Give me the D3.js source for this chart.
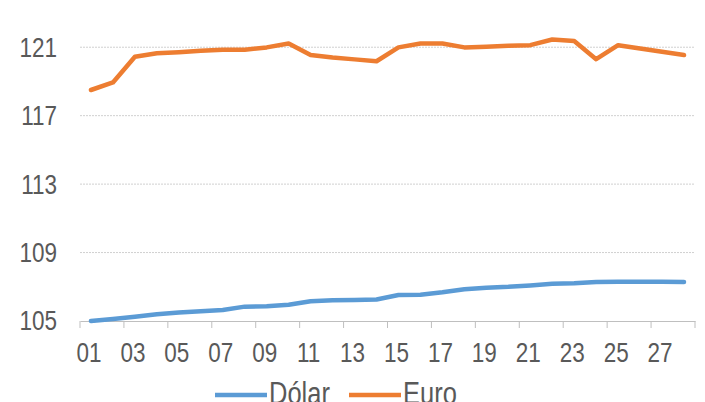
<!DOCTYPE html>
<html>
<head>
<meta charset="utf-8">
<script src="https://cdn.jsdelivr.net/npm/d3@7"></script>
<style>
  body { margin: 0; background: #fff; }
  svg text { font-family: "Liberation Sans", Arial, sans-serif; fill: #595959; }
</style>
</head>
<body>
<div class="diagram"></div>
<script>
// days of the month
const days = d3.range(1, 29).map(d => d3.format("02")(d));
const dolar = [105.0, 105.12, 105.25, 105.39, 105.49, 105.57, 105.64, 105.84, 105.86, 105.95,
  106.15, 106.21, 106.23, 106.26, 106.52, 106.54, 106.68, 106.85, 106.95, 107.0,
  107.08, 107.18, 107.2, 107.28, 107.3, 107.3, 107.3, 107.28];
const euro = [118.5, 118.94, 120.44, 120.65, 120.71, 120.79, 120.85, 120.85, 120.99, 121.22,
  120.54, 120.4, 120.29, 120.18, 120.99, 121.22, 121.22, 120.99, 121.03, 121.08,
  121.12, 121.45, 121.36, 120.3, 121.12, 120.93, 120.73, 120.54];
const yTicks = [105, 109, 113, 117, 121];
const seriesNames = ["Dólar", "Euro"];
const colors = ["#5B9BD5", "#ED7D31"];

const W = 705, H = 402;
const margin = {top: 13, right: 10, bottom: 81, left: 80};
const width = 695 - margin.left,
    height = 321 - margin.top;
const fontSize = "22.5px", stretch = "scale(1,1.2)"; // the text in the picture is a bit tall

const svg = d3.select(".diagram")
  .append("svg")
    .attr("width", W)
    .attr("height", H)
  .append("g")
    .attr("transform", `translate(${margin.left}, ${margin.top})`);

const x = d3.scaleBand()
  .domain(days)
  .range([0, width]);

const y = d3.scaleLinear()
  .domain([105, 123])
  .range([height, 0]);

// gridlines
svg.append("g")
  .selectAll("line")
  .data(yTicks.slice(1))
  .join("line")
    .attr("x1", 0)
    .attr("x2", width)
    .attr("y1", d => y(d))
    .attr("y2", d => y(d))
    .attr("stroke", "#d0d0d0")
    .attr("stroke-width", 1)
    .attr("stroke-dasharray", "2,1");

// Y axis (labels only)
const yAxis = svg.append("g")
  .call(d3.axisLeft(y).tickValues(yTicks).tickSize(0).tickPadding(23));
yAxis.select(".domain").remove();
yAxis.selectAll("text")
  .style("font-size", fontSize)
  .attr("dy", "0.33em")
  .attr("transform", stretch);

// X axis with ticks between every two categories
const xAxis = svg.append("g")
  .attr("transform", `translate(0, ${height})`)
  .call(d3.axisBottom(x)
    .tickValues(days.filter((d, i) => i % 2 === 0))
    .tickSize(0));
xAxis.select(".domain").attr("stroke", "#bfbfbf");
xAxis.selectAll("text")
  .style("font-size", fontSize)
  .attr("y", 34)
  .attr("dy", 0)
  .attr("dx", "-2")
  .attr("transform", stretch);

const boundaries = d3.range(0, days.length + 1, 2);
xAxis.append("g")
  .selectAll("line")
  .data(boundaries)
  .join("line")
    .attr("x1", d => d * x.step())
    .attr("x2", d => d * x.step())
    .attr("y1", 0)
    .attr("y2", 7)
    .attr("stroke", "#bfbfbf");

// lines
const line = d3.line()
  .x((d, i) => x(days[i]) + x.bandwidth() / 2)
  .y(d => y(d));

[dolar, euro].forEach((s, k) => {
  svg.append("path")
    .datum(s)
    .attr("fill", "none")
    .attr("stroke", colors[k])
    .attr("stroke-width", 4.5)
    .attr("stroke-linejoin", "round")
    .attr("stroke-linecap", "round")
    .attr("d", line);
});

// legend (cut by the bottom edge, as in the picture)
const legend = d3.select("svg").append("g");
const legendX = [215, 349];
seriesNames.forEach((name, k) => {
  legend.append("line")
    .attr("x1", legendX[k])
    .attr("x2", legendX[k] + 52)
    .attr("y1", 395)
    .attr("y2", 395)
    .attr("stroke", colors[k])
    .attr("stroke-width", 4.5);
  legend.append("text")
    .attr("transform", `translate(${legendX[k] + 54}, 404) ${stretch}`)
    .style("font-size", "25.5px")
    .text(name);
});
</script>
</body>
</html>
